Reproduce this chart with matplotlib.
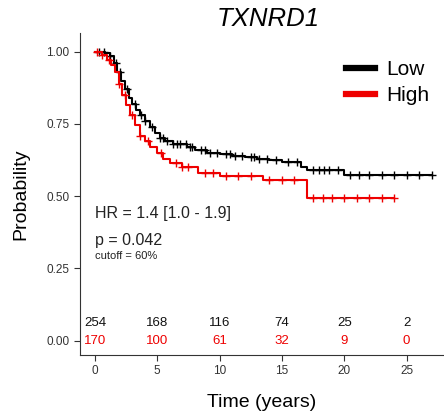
import numpy as np
import matplotlib
matplotlib.use("Agg")
import matplotlib.pyplot as plt

plt.rcParams['font.family'] = ['Liberation Sans', 'DejaVu Sans']

# Kaplan-Meier step data
low_t = [0, 0.8, 1.2, 1.5, 1.8, 2.1, 2.4, 2.7, 3.0, 3.3, 3.6, 4.0, 4.4, 4.8, 5.2, 5.6, 6.3, 7.4,
         8.0, 9.0, 10.0, 11.0, 12.0, 13.0, 14.0, 15.0, 16.5, 17.0, 20.0, 27.0]
low_s = [1.0, 0.995, 0.985, 0.96, 0.93, 0.90, 0.87, 0.84, 0.82, 0.80, 0.78, 0.76, 0.74, 0.72,
         0.70, 0.69, 0.68, 0.67, 0.66, 0.65, 0.645, 0.64, 0.635, 0.63, 0.625, 0.62, 0.60, 0.59,
         0.575, 0.575]
high_t = [0, 0.6, 1.0, 1.3, 1.6, 1.9, 2.2, 2.5, 2.8, 3.2, 3.6, 4.0, 4.4, 5.0, 5.5, 6.0, 7.0, 8.3,
          10.0, 13.5, 17.0, 24.0]
high_s = [1.0, 0.99, 0.97, 0.955, 0.93, 0.89, 0.85, 0.815, 0.78, 0.745, 0.71, 0.69, 0.67, 0.65,
          0.63, 0.615, 0.60, 0.58, 0.57, 0.555, 0.495, 0.495]

low_censor = [0.3, 0.7, 1.2, 1.7, 2.0, 2.6, 3.2, 3.7, 4.0, 4.6, 5.2, 5.5, 5.8, 6.3, 6.6, 6.8, 7.3,
              7.6, 7.8, 8.5, 8.8, 9.2, 9.8, 10.5, 10.8, 11.2, 11.8, 12.5, 12.8, 13.2, 13.8, 14.5,
              15.5, 16.2, 17.5, 18.0, 18.4, 18.8, 19.5, 20.5, 21.2, 22.0, 23.0, 24.0, 25.0, 26.0,
              27.0]
high_censor = [0.2, 0.6, 1.1, 1.9, 2.4, 3.0, 3.6, 4.3, 5.3, 6.5, 7.0, 7.5, 8.8, 9.5, 10.5, 11.5,
               12.5, 14.0, 15.0, 16.0, 17.5, 18.3, 19.0, 20.0, 21.0, 22.0, 23.0, 24.0]

risk_times = [0, 5, 10, 15, 20, 25]
risk_low = [254, 168, 116, 74, 25, 2]
risk_high = [170, 100, 61, 32, 9, 0]

title = "TXNRD1"
hr_text = "HR = 1.4 [1.0 - 1.9]"
p_text = "p = 0.042"
cutoff_text = "cutoff = 60%"

fig = plt.figure(figsize=(4.44, 4.16), dpi=100)
ax = fig.add_axes([0.18, 0.1466, 0.82, 0.774])

def surv_at(ts, ss, t):
    i = np.searchsorted(ts, t, side='right') - 1
    return np.array(ss)[i]

for ts, ss, cens, col, lab in [(low_t, low_s, low_censor, 'black', 'Low'),
                               (high_t, high_s, high_censor, '#ee0000', 'High')]:
    ax.step(ts, ss, where='post', color=col, lw=1.5, label=lab)
    ax.plot(cens, [surv_at(ts, ss, c) for c in cens], '+', color=col, ms=6, mew=1.0)

for t, a, b in zip(risk_times, risk_low, risk_high):
    ax.text(t, 0.062, str(a), ha='center', va='center', fontsize=9.5, color='#111111')
    ax.text(t, 0.0, str(b), ha='center', va='center', fontsize=9.5, color='#ee0000')

ax.text(0, 0.44, hr_text, fontsize=11.5, color='#222222', va='center')
ax.text(0, 0.348, p_text, fontsize=11.5, color='#222222', va='center')
ax.text(0, 0.292, cutoff_text, fontsize=8, color='#222222', va='center')

ax.set_xlim(-1.2, 28)
ax.set_ylim(-0.05, 1.065)
ax.set_xticks(risk_times)
ax.set_yticks([0, 0.25, 0.5, 0.75, 1.0])
ax.set_yticklabels(['0.00', '0.25', '0.50', '0.75', '1.00'])
ax.tick_params(labelsize=8.5, colors='#333333', length=4)
for s in ['top', 'right']:
    ax.spines[s].set_visible(False)
for s in ['left', 'bottom']:
    ax.spines[s].set_color('#333333')

ax.set_xlabel("Time (years)", fontsize=14, labelpad=12)
ax.set_ylabel("Probability", fontsize=14, labelpad=12)
fig.text(0.605, 0.955, title, fontsize=18.5, style='italic', ha='center', va='center')

leg = ax.legend(loc='upper right', bbox_to_anchor=(1.01, 0.975), frameon=False, fontsize=15,
                handlelength=1.4, handletextpad=0.5, labelspacing=0.35)
for h in leg.get_lines():
    h.set_linewidth(4.5)

fig.savefig("out.png", dpi=100)
